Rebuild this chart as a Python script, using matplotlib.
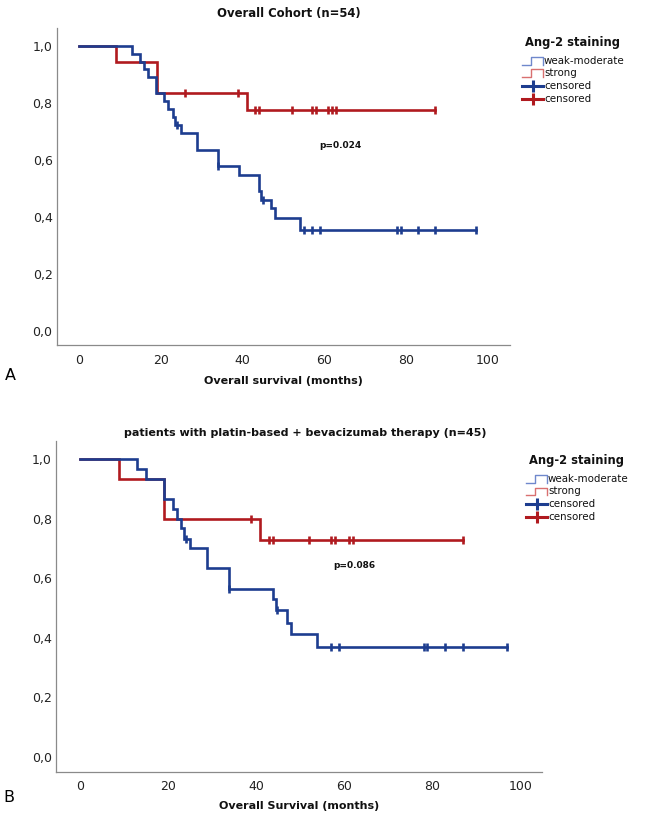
import numpy as np
import matplotlib
matplotlib.use('Agg')
import matplotlib.pyplot as plt
from matplotlib.lines import Line2D

plt.rcParams['font.family'] = ['DejaVu Sans']

# ---- data ----
# panel A: overall cohort
a_blue_t = [12.9, 14.9, 15.9, 16.9, 18.8, 20.8, 21.8, 22.9, 23.5, 24.9, 28.8,
            34.0, 39.1, 44.0, 44.6, 46.9, 47.9, 54.0]
a_blue_s = [0.972, 0.944, 0.917, 0.889, 0.833, 0.806, 0.778, 0.750, 0.722, 0.693,
            0.635, 0.577, 0.548, 0.490, 0.461, 0.430, 0.397, 0.354]
a_blue_c = [24.0, 34.0, 45.1, 55.0, 57.0, 58.9, 77.8, 78.8, 83.0, 87.0, 97.1]

a_red_t = [9.0, 19.0, 41.0]
a_red_s = [0.944, 0.833, 0.774]
a_red_c = [26.0, 39.0, 43.0, 44.0, 52.0, 57.0, 57.9, 61.0, 61.9, 62.9, 87.0]

# panel B: platin-based + bevacizumab
b_blue_t = [12.8, 14.9, 19.0, 21.0, 21.9, 22.8, 23.5, 24.9, 28.8, 33.8, 43.8,
            44.4, 46.9, 47.8, 53.9]
b_blue_s = [0.967, 0.933, 0.867, 0.833, 0.800, 0.767, 0.733, 0.700, 0.633, 0.563,
            0.529, 0.493, 0.451, 0.413, 0.370]
b_blue_c = [23.9, 33.8, 44.7, 56.9, 58.8, 78.1, 78.9, 83.0, 86.9, 97.1]

b_red_t = [8.8, 19.0, 40.8]
b_red_s = [0.933, 0.800, 0.727]
b_red_c = [38.9, 42.9, 43.8, 51.9, 56.9, 57.8, 61.0, 61.9, 87.0]

ytick_vals = [0.0, 0.2, 0.4, 0.6, 0.8, 1.0]
ytick_labels = ['0,0', '0,2', '0,4', '0,6', '0,8', '1,0']
xtick_vals = [0, 20, 40, 60, 80, 100]

legend_title = 'Ang-2 staining'
legend_labels = ['weak-moderate', 'strong', 'censored', 'censored']

BLUE = '#1d3d8f'
RED = '#b01a1f'
BLUE_LIGHT = '#6f88cc'
RED_LIGHT = '#d97070'
W, H = 645, 818


def km_curve(ax, t, s, cens, color):
    end = max(max(t), max(cens))
    x = [0] + list(t) + [end]
    y = [1.0] + list(s) + [s[-1]]
    ax.step(x, y, where='post', color=color, lw=1.9, solid_joinstyle='miter')
    lev = np.array([1.0] + list(s))
    idx = np.searchsorted(np.array(t), np.array(cens), side='right')
    ax.plot(cens, lev[idx], ls='none', marker='|', ms=5.5, mew=1.9, color=color)


def style_axes(ax, xlim):
    ax.set_xlim(*xlim)
    ax.set_ylim(-0.05, 1.06)
    for sp in ['top', 'right']:
        ax.spines[sp].set_visible(False)
    for sp in ['left', 'bottom']:
        ax.spines[sp].set_color('#8a8a8a')
        ax.spines[sp].set_linewidth(0.9)
    ax.set_yticks(ytick_vals)
    ax.set_yticklabels(ytick_labels)
    ax.set_xticks(xtick_vals)
    ax.tick_params(axis='both', length=0, labelsize=9, colors='#222222')
    ax.tick_params(axis='x', pad=6)
    ax.tick_params(axis='y', pad=3)


def px(x, y):
    return x / W, 1 - y / H


def draw_legend(fig, x0, y0):
    # x0, y0: pixel position of the legend title's left edge / centre line
    fig.text(*px(x0, y0), legend_title, fontsize=8.3, fontweight='bold',
             va='center', ha='left', color='#111111')
    rows = [y0 + 18, y0 + 30.5, y0 + 43, y0 + 56]
    ix0, ix1 = x0 - 3, x0 + 18
    # step icons
    for yy, c in zip(rows[:2], [BLUE_LIGHT, RED_LIGHT]):
        xs = [ix0, ix0 + 9, ix0 + 9, ix1, ix1]
        ys = [yy + 4, yy + 4, yy - 4, yy - 4, yy + 4]
        pts = [px(a, b) for a, b in zip(xs, ys)]
        fig.add_artist(Line2D([p[0] for p in pts], [p[1] for p in pts],
                              color=c, lw=1.0, transform=fig.transFigure))
    # censored icons
    for yy, c in zip(rows[2:], [BLUE, RED]):
        (xa, ya), (xb, yb) = px(ix0, yy), px(ix1, yy)
        fig.add_artist(Line2D([xa, xb], [ya, yb], color=c, lw=2.2,
                              transform=fig.transFigure))
        xm, ym = px((ix0 + ix1) / 2, yy)
        fig.add_artist(Line2D([xm], [ym], color=c, marker='|', ms=8, mew=2.2,
                              transform=fig.transFigure))
    for yy, lab in zip(rows, legend_labels):
        fig.text(*px(ix1 + 1, yy), lab, fontsize=7.4, va='center', ha='left',
                 color='#111111')


fig = plt.figure(figsize=(W / 100, H / 100), dpi=100)

# panel A
axA = fig.add_axes([56.7 / W, 1 - 345.5 / H, 453.3 / W, 317 / H])
km_curve(axA, a_red_t, a_red_s, a_red_c, RED)
km_curve(axA, a_blue_t, a_blue_s, a_blue_c, BLUE)
style_axes(axA, (-5.45, 105.4))
axA.text(63.8, 0.649, 'p=0.024', fontsize=6.5, fontweight='bold', ha='center',
         va='center', color='#111111')
fig.text(*px(289, 13), 'Overall Cohort (n=54)', fontsize=8.4, fontweight='bold',
         ha='center', va='center', color='#111111')
fig.text(*px(283.5, 381.5), 'Overall survival (months)', fontsize=8,
         fontweight='bold', ha='center', va='center', color='#111111')
fig.text(*px(10, 375), 'A', fontsize=11.5, ha='center', va='center')
draw_legend(fig, 525, 42.7)

# panel B
axB = fig.add_axes([56.2 / W, 1 - 772 / H, 486 / W, 331 / H])
km_curve(axB, b_red_t, b_red_s, b_red_c, RED)
km_curve(axB, b_blue_t, b_blue_s, b_blue_c, BLUE)
style_axes(axB, (-5.5, 105))
axB.text(62.3, 0.641, 'p=0.086', fontsize=6.5, fontweight='bold', ha='center',
         va='center', color='#111111')
fig.text(*px(305, 433), 'patients with platin-based + bevacizumab therapy (n=45)',
         fontsize=8, fontweight='bold', ha='center', va='center', color='#111111')
fig.text(*px(299, 806), 'Overall Survival (months)', fontsize=8,
         fontweight='bold', ha='center', va='center', color='#111111')
fig.text(*px(9, 797), 'B', fontsize=11.5, ha='center', va='center')
draw_legend(fig, 529, 461)

fig.savefig('out.png', dpi=100)
